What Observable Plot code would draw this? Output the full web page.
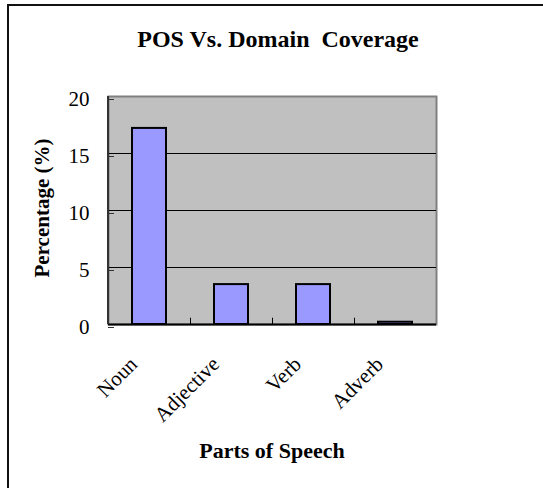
<!DOCTYPE html>
<html>
<head>
<meta charset="utf-8">
<script src="https://cdn.jsdelivr.net/npm/d3@7"></script>
<script src="https://cdn.jsdelivr.net/npm/@observablehq/plot@0.6"></script>
<style>
  html, body { margin: 0; padding: 0; background: #fff; }
  #wrap { position: relative; width: 543px; height: 488px; overflow: hidden; }
  #border { position: absolute; left: 7px; top: 4px; right: -2px; bottom: -2px; border-left: 2px solid #111; border-top: 2px solid #111; pointer-events: none; }
  #chart { position: absolute; left: 0; top: 0; }
</style>
</head>
<body>
<div id="wrap"><div id="chart"></div><div id="border"></div></div>
<script>
const title = "POS Vs. Domain  Coverage";
const xTitle = "Parts of Speech";
const yTitle = "Percentage (%)";
const categories = ["Noun", "Adjective", "Verb", "Adverb"];
const values = [17.2, 3.5, 3.5, 0.2];
const yTicks = [0, 5, 10, 15, 20];
const gridTicks = [5, 10, 15];

const data = categories.map((c, i) => ({category: c, value: values[i]}));
const serif = "'Liberation Serif', 'Times New Roman', serif";

const chart = Plot.plot({
  width: 543,
  height: 488,
  marginLeft: 108,
  marginRight: 107,
  marginTop: 96,
  marginBottom: 164,
  style: {background: "transparent", fontFamily: serif, overflow: "visible"},
  x: {domain: categories, paddingInner: 0.585, paddingOuter: 0.2925, axis: null},
  y: {domain: [0, 20], axis: null},
  marks: [
    Plot.frame({fill: "#C0C0C0", stroke: "#808080", strokeWidth: 2}),
    Plot.gridY(gridTicks, {stroke: "#000", strokeOpacity: 1, strokeWidth: 1}),
    Plot.ruleY([0], {stroke: "#000", strokeWidth: 2}),
    Plot.axisY(yTicks, {label: null, tickSize: -6, tickPadding: 25, fontSize: 21, stroke: "#333", fill: "#000", dy: 3}),
    Plot.ruleX(categories.slice(0, 3), {x: d => d, dx: 41, y1: 0, y2: 0.55, stroke: "#000", strokeWidth: 1}),
    Plot.barY(data, {x: "category", y: "value", fill: "#9999FF", stroke: "#000", strokeWidth: 2}),
    Plot.text(categories, {x: d => d, text: d => d, frameAnchor: "bottom", rotate: -45, textAnchor: "end", dx: -11, dy: 41, fontSize: 21, fill: "#000"})
  ]
});

const svg = d3.select(chart);
svg.append("line")
  .attr("x1", 108).attr("x2", 108).attr("y1", 96).attr("y2", 324)
  .attr("stroke", "#333").attr("stroke-width", 2);
svg.append("text")
  .attr("x", 278).attr("y", 47)
  .attr("text-anchor", "middle")
  .style("white-space", "pre")
  .attr("xml:space", "preserve")
  .attr("font-family", serif).attr("font-weight", "bold").attr("font-size", 24)
  .attr("fill", "#000")
  .text(title);
svg.append("text")
  .attr("transform", "translate(49,208) rotate(-90)")
  .attr("text-anchor", "middle")
  .attr("font-family", serif).attr("font-weight", "bold").attr("font-size", 21)
  .attr("fill", "#000")
  .text(yTitle);
svg.append("text")
  .attr("x", 272).attr("y", 458)
  .attr("text-anchor", "middle")
  .attr("font-family", serif).attr("font-weight", "bold").attr("font-size", 22)
  .attr("fill", "#000")
  .text(xTitle);

document.getElementById("chart").appendChild(chart);
</script>
</body>
</html>
